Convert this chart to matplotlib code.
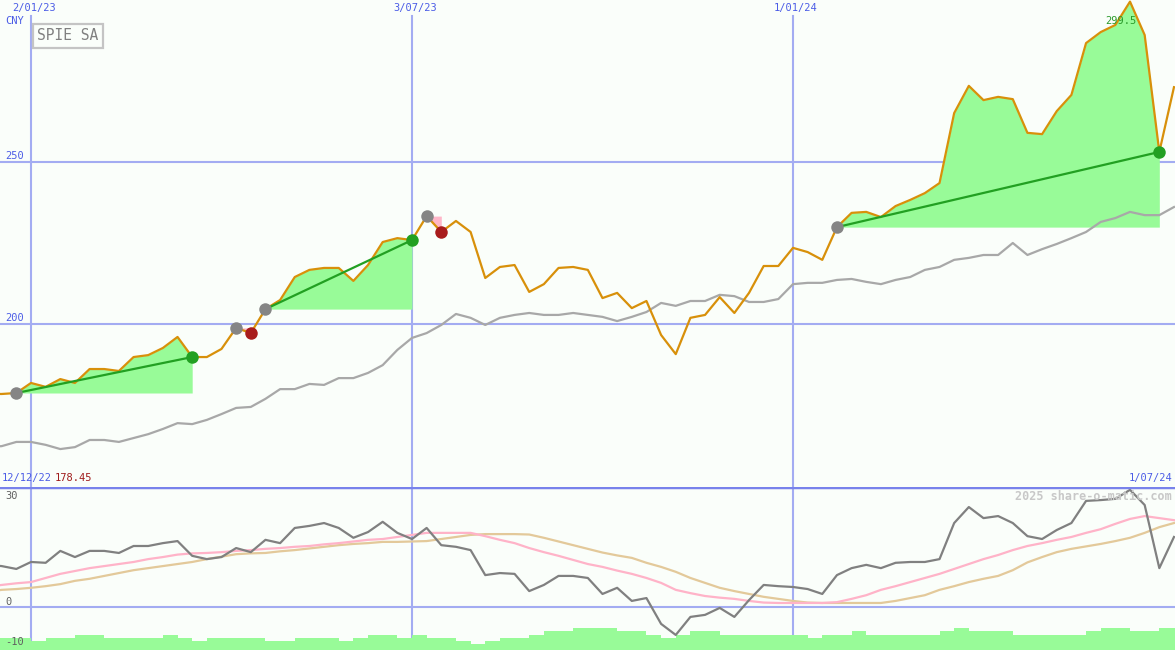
import numpy as np
import pandas as pd
import matplotlib
matplotlib.use('Agg')
import matplotlib.pyplot as plt
import matplotlib.dates as mdates

# weekly closes (mondays) 12/12/22 -> 1/07/24
date = pd.date_range('2022-12-12', '2024-07-01', freq='W-MON')

price = [178.45, 178.4, 178.7,
         181.8, 180.6, 183.0, 181.8, 186.1, 186.1, 185.5, 189.8, 190.4, 192.6,
         196.0, 189.8, 189.8, 192.3, 198.8, 197.2, 204.6, 207.4, 214.5, 216.7,
         217.3, 217.3, 213.3, 218.2, 225.3, 226.5, 225.9, 233.3, 228.4, 231.8,
         228.4, 214.2, 217.6, 218.2, 209.9, 212.3, 217.3, 217.6, 216.7, 208.0,
         209.6, 204.9, 207.1, 196.6, 190.7, 201.9, 202.8, 208.3, 203.4, 209.6,
         217.9, 217.9, 223.5, 222.2, 219.8, 229.9, 234.3, 234.6, 233.0, 236.4,
         238.3, 240.4, 243.5, 265.1, 273.5, 269.1, 270.1, 269.4, 259.0, 258.6,
         265.7, 270.7, 286.7, 290.1, 292.3, 299.5, 289.2, 253.1, 273.1]

avg = [162.0, 162.3, 163.6,
       163.6, 162.7, 161.4, 162.0, 164.2, 164.2, 163.6, 164.8, 166.0, 167.6,
       169.4, 169.1, 170.4, 172.2, 174.1, 174.4, 176.9, 179.9, 179.9, 181.5,
       181.2, 183.3, 183.3, 184.9, 187.3, 192.0, 195.7, 197.2, 199.7, 203.1,
       201.9, 199.7, 201.9, 202.8, 203.4, 202.8, 202.8, 203.4, 202.8, 202.2,
       200.9, 202.2, 203.7, 206.5, 205.6, 207.1, 207.1, 209.0, 208.6, 206.8,
       206.8, 207.7, 212.3, 212.7, 212.7, 213.6, 213.9, 213.0, 212.3, 213.6,
       214.5, 216.7, 217.6, 219.8, 220.4, 221.3, 221.3, 225.0, 221.3, 223.1,
       224.7, 226.5, 228.4, 231.5, 232.7, 234.6, 233.6, 233.6, 236.1]

osc = [10.4, 10.1, 9.4,
       11.1, 10.9, 13.8, 12.3, 13.8, 13.8, 13.3, 15.0, 15.0, 15.7,
       16.2, 12.6, 11.8, 12.3, 14.5, 13.5, 16.5, 15.7, 19.4, 19.9,
       20.6, 19.4, 17.0, 18.4, 20.9, 18.2, 16.7, 19.4, 15.2, 14.8,
       14.0, 7.9, 8.4, 8.2, 4.0, 5.5, 7.7, 7.7, 7.2, 3.3,
       4.8, 1.6, 2.3, -4.0, -6.7, -2.3, -1.8, -0.1, -2.3, 1.8,
       5.5, 5.2, 5.0, 4.5, 3.3, 7.9, 9.6, 10.4, 9.6, 10.9,
       11.1, 11.1, 11.8, 20.6, 24.5, 21.8, 22.3, 20.6, 17.4, 16.7,
       18.9, 20.6, 26.0, 26.2, 26.5, 28.7, 25.0, 9.6, 17.2]

osc_fast = [5.0, 5.5, 5.9,
            6.2, 7.2, 8.2, 8.9, 9.6, 10.1, 10.6, 11.1, 11.8, 12.3,
            12.9, 13.2, 13.3, 13.5, 13.8, 14.0, 14.3, 14.5, 14.8, 15.0,
            15.4, 15.7, 16.1, 16.5, 16.7, 17.2, 17.7, 18.2, 18.2, 18.2,
            18.2, 17.4, 16.5, 15.7, 14.5, 13.5, 12.6, 11.6, 10.6, 9.9,
            9.0, 8.2, 7.2, 6.0, 4.3, 3.5, 2.8, 2.4, 2.1, 1.6,
            1.2, 1.1, 1.1, 1.1, 1.1, 1.3, 2.1, 3.0, 4.3, 5.2,
            6.2, 7.2, 8.2, 9.4, 10.6, 11.8, 12.8, 14.0, 15.0, 15.7,
            16.5, 17.2, 18.2, 19.1, 20.4, 21.6, 22.3, 21.8, 21.3]

osc_slow = [3.8, 4.3, 4.5,
            4.8, 5.2, 5.7, 6.5, 7.0, 7.7, 8.4, 9.1, 9.6, 10.1,
            10.6, 11.1, 11.8, 12.4, 13.0, 13.2, 13.3, 13.7, 14.0, 14.4,
            14.8, 15.2, 15.5, 15.7, 16.0, 16.0, 16.1, 16.2, 16.7, 17.2,
            17.7, 17.9, 17.9, 17.9, 17.8, 17.0, 16.1, 15.2, 14.3, 13.4,
            12.7, 12.1, 10.9, 9.9, 8.7, 7.2, 6.0, 4.8, 4.0, 3.3,
            2.6, 2.1, 1.6, 1.2, 1.1, 1.1, 1.1, 1.1, 1.1, 1.6,
            2.3, 3.0, 4.3, 5.2, 6.2, 7.0, 7.7, 9.1, 11.0, 12.3,
            13.5, 14.3, 14.9, 15.5, 16.2, 17.0, 18.2, 19.6, 20.6]

volume = [12, 12, 12,
          9, 12, 12, 15, 15, 12, 12, 12, 12, 15,
          12, 9, 12, 12, 12, 12, 9, 9, 12, 12,
          12, 9, 12, 15, 15, 12, 15, 12, 12, 9,
          6, 9, 12, 12, 15, 19, 19, 22, 22, 22,
          19, 19, 15, 12, 15, 19, 19, 15, 15, 15,
          15, 15, 15, 12, 15, 15, 19, 15, 15, 15,
          15, 15, 19, 22, 19, 19, 19, 15, 15, 15,
          15, 15, 19, 22, 22, 19, 19, 22, 22]

# trades: entry / exit index in date
entry = [2, 17, 19, 30, 58]
exit_ = [14, 18, 29, 31, 80]

grid_dates = ['2023-01-02', '2023-07-03', '2024-01-01']
grid_labels = ['2/01/23', '3/07/23', '1/01/24']
price_ticks = [200, 250]
osc_ticks = [30, 0, -10]

bg = '#fafefa'
grid_c = '#a3acf2'
blue_txt = '#4b5ce6'
mono = 'DejaVu Sans Mono'

W, H = 1175, 650
fig = plt.figure(figsize=(W / 100, H / 100), dpi=100, facecolor=bg)
split = 487
ax1 = fig.add_axes([0, 1 - split / H, 1, split / H])
ax2 = fig.add_axes([0, 0, 1, 1 - split / H])

def fpx(x, y):
    return x / W, 1 - y / H

x = mdates.date2num(date)
x0 = mdates.date2num(pd.Timestamp('2023-01-02'))
xl, xr = x0 - 2.1155 * 7, x0 + 78.07 * 7
p = np.array(price)

for ax in (ax1, ax2):
    ax.set_facecolor(bg)
    ax.set_xlim(xl, xr)
    for s in ax.spines.values():
        s.set_visible(False)
    ax.set_xticks([])
    ax.set_yticks([])

ax1.set_ylim(149.69, 300.0)
ax2.set_ylim(-10.37, 29.39)

# grid
for d in grid_dates:
    ax1.axvline(mdates.date2num(pd.Timestamp(d)), ymax=1 - 16 / split, color=grid_c, lw=1.5, zorder=0)
    ax2.axvline(mdates.date2num(pd.Timestamp(d)), color=grid_c, lw=1.5, zorder=0)
for t in price_ticks:
    ax1.axhline(t, color=grid_c, lw=1.5, zorder=0)
ax2.axhline(0, color=grid_c, lw=1.5, zorder=0)
ax2.axhline(29.39, color='#7882eb', lw=2.5, zorder=6)

# trades
for e, s in zip(entry, exit_):
    seg = slice(e, s + 1)
    win = p[s] > p[e]
    ax1.fill_between(x[seg], p[seg], p[e], color='#98fb98' if win else '#ffb6c8', lw=0, zorder=1)

ax1.plot(x, avg, color='#a8a8a8', lw=1.6, zorder=2)
ax1.plot(x, price, color='#d8900a', lw=1.6, zorder=3)

for e, s in zip(entry, exit_):
    win = p[s] > p[e]
    if win:
        ax1.plot([x[e], x[s]], [p[e], p[s]], color='#22a022', lw=1.6, zorder=4)
    ax1.plot(x[e], p[e], 'o', ms=9, mew=0, color='#858585', zorder=5)
    ax1.plot(x[s], p[s], 'o', ms=9, mew=0, color='#22a022' if win else '#a81c1c', zorder=5)

# lower panel
ax2.bar(x, np.array(volume) / 4.1, width=7, align='edge', bottom=-10.37, color='#98fb98', lw=0, zorder=1)
ax2.plot(x, osc_slow, color='#e3c99a', lw=1.6, zorder=2)
ax2.plot(x, osc_fast, color='#ffb3c8', lw=1.6, zorder=3)
ax2.plot(x, osc, color='#808080', lw=1.6, zorder=4)

# texts
for d, lab in zip(grid_dates, grid_labels):
    gx = 31 + (mdates.date2num(pd.Timestamp(d)) - x0) / 7 * 14.654
    fig.text(*fpx(gx + 3, 8), lab, ha='center', va='center', family=mono, fontsize=7.5, color=blue_txt)
fig.text(*fpx(5, 21), 'CNY', ha='left', va='center', family=mono, fontsize=7.5, color=blue_txt)
for t in price_ticks:
    yy = (300.0 - t) / (300.0 - 149.69) * split
    fig.text(*fpx(5, yy - 6), str(t), ha='left', va='center', family=mono, fontsize=7.5, color=blue_txt)
fig.text(*fpx(37, 36), 'SPIE SA', ha='left', va='center', family=mono, fontsize=10.5, color='#808080',
         bbox=dict(boxstyle='square,pad=0.3', fc=bg, ec='#c4c4c4', lw=1.6))
fig.text(*fpx(1105, 21), '%.1f' % max(price), ha='left', va='center', family=mono, fontsize=7.5, color='#2a9a2a')

fig.text(*fpx(2, 478), date[0].strftime('%d/%m/%y'), ha='left', va='center', family=mono, fontsize=7.5, color=blue_txt)
fig.text(*fpx(55, 478), '%.2f' % price[0], ha='left', va='center', family=mono, fontsize=7.5, color='#a01c1c')
fig.text(*fpx(1172, 478), '1/07/24', ha='right', va='center', family=mono, fontsize=7.5, color=blue_txt)
for t, yy in zip(osc_ticks, [496, 602, 642]):
    fig.text(*fpx(5, yy), str(t), ha='left', va='center', family=mono, fontsize=7.5, color='#606060')
fig.text(*fpx(1172, 496), '2025 share-o-matic.com', ha='right', va='center', family=mono,
         fontsize=8.5, fontweight='bold', color='#c8c8c8')

fig.savefig('out.png', dpi=100, facecolor=bg)
